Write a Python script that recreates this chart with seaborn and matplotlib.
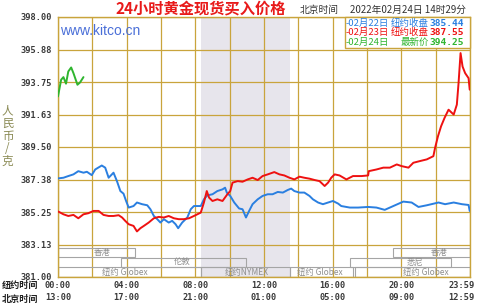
import matplotlib
matplotlib.use("Agg")
import matplotlib.pyplot as plt
import seaborn as sns
import pandas as pd
from matplotlib.patches import Rectangle
from matplotlib.transforms import ScaledTranslation

# ---------------- data ----------------
# minutes after 00:00 New York time
blue_min = [1, 19, 36, 54, 71, 89, 101, 118, 130, 153, 165, 177, 194, 206, 218, 229, 238, 247,
            264, 276, 294, 312, 323, 335, 347, 358, 370, 387, 399, 411, 420, 434, 452, 464, 475,
            499, 510, 522, 540, 557, 575, 584, 590, 602, 616, 633, 645, 657, 668, 680, 698, 715,
            733, 750, 768, 786, 803, 815, 826, 844, 861, 879, 891, 909, 926, 944, 961, 979, 990,
            1020, 1049, 1084, 1113, 1142, 1172, 1207, 1236, 1260, 1289, 1330, 1353, 1383, 1412,
            1435, 1439]
blue_val = [387.45, 387.49, 387.60, 387.71, 387.92, 387.82, 387.88, 387.66, 388.03, 388.29, 388.15,
            387.49, 387.82, 387.27, 386.62, 386.45, 385.97, 385.54, 385.64, 385.87, 385.76, 385.69,
            385.43, 384.99, 384.78, 384.56, 384.78, 384.56, 384.67, 384.45, 384.19, 384.56, 384.89,
            385.43, 385.64, 385.64, 386.08, 386.34, 386.41, 386.62, 386.73, 386.84, 386.52, 386.30,
            385.87, 385.48, 385.43, 384.89, 385.32, 385.76, 386.08, 386.30, 386.41, 386.41, 386.56,
            386.52, 386.69, 386.78, 386.62, 386.52, 386.52, 386.30, 386.08, 385.87, 385.76, 385.87,
            385.97, 385.80, 385.64, 385.54, 385.54, 385.58, 385.54, 385.39, 385.64, 385.93, 385.87,
            385.58, 385.69, 385.87, 385.76, 385.87, 385.76, 385.71, 385.32]

red_min = [1, 19, 36, 54, 71, 89, 106, 124, 142, 159, 177, 194, 212, 224, 235, 247, 264, 276, 288,
           300, 317, 335, 352, 370, 387, 405, 422, 440, 458, 475, 499, 510, 520, 528, 540, 557,
           575, 592, 602, 610, 628, 645, 663, 680, 698, 715, 733, 756, 774, 791, 809, 826, 844,
           861, 879, 897, 914, 932, 944, 955, 967, 984, 1008, 1031, 1061, 1084, 1086, 1113, 1137,
           1160, 1184, 1201, 1225, 1242, 1265, 1289, 1312, 1318, 1328, 1339, 1351, 1365, 1383,
           1394, 1400, 1407, 1414, 1423, 1435, 1439]
red_val = [385.28, 385.10, 384.99, 385.06, 384.84, 385.10, 385.17, 385.32, 385.32, 385.06, 384.99,
           384.99, 385.04, 384.89, 384.67, 384.45, 384.34, 383.98, 384.19, 384.34, 384.56, 384.84,
           384.93, 384.89, 384.99, 384.84, 384.78, 384.78, 384.84, 384.99, 385.21, 385.87, 386.62,
           386.19, 385.97, 386.08, 385.97, 386.41, 386.62, 387.17, 387.27, 387.23, 387.38, 387.49,
           387.34, 387.60, 387.71, 387.86, 387.71, 387.64, 387.49, 387.38, 387.56, 387.49, 387.43,
           387.34, 387.27, 386.95, 387.17, 387.49, 387.71, 387.64, 387.38, 387.60, 387.60, 387.64,
           387.92, 388.03, 388.15, 388.15, 388.36, 388.25, 388.15, 388.47, 388.58, 388.69, 388.90,
           389.45, 390.20, 390.86, 391.40, 391.94, 391.62, 392.27, 393.68, 395.64, 394.76, 394.33,
           394.00, 393.25]

green_min = [0, 11, 19, 28, 36, 46, 54, 68, 77, 89]
green_val = [392.81, 393.90, 394.07, 393.64, 394.44, 394.70, 394.33, 393.57, 393.72, 394.07]

y_ticks = [381.0, 383.125, 385.25, 387.375, 389.5, 391.625, 393.75, 395.875, 398.0]
y_tick_labels = ["381.00", "383.13", "385.25", "387.38", "389.50", "391.63", "393.75", "395.88", "398.00"]
x_ticks = [0, 240, 480, 720, 960, 1200, 1439]
ny_labels = ["00:00", "04:00", "08:00", "12:00", "16:00", "20:00", "23:59"]
bj_labels = ["13:00", "17:00", "21:00", "01:00", "05:00", "09:00", "12:59"]
x_grid_minor = [120, 360, 600, 840, 1080, 1320]

nymex_span = [500, 810]

session_names = ["香港", "香港", "伦敦", "悉尼", "纽约 Globex", "纽约NYMEX", "纽约 Globex", "纽约 Globex"]
session_start = [0, 1172, 220, 1022, 0, 500, 810, 1038]
session_end = [268, 1440, 658, 1375, 500, 810, 1031, 1440]
session_row = [0, 0, 1, 1, 2, 2, 2, 2]
session_label_at = [154, 1331, 433, 1248, 232, 661, 916, 1286]
row_bounds = [(382.32, 382.91), (381.67, 382.26), (381.0, 381.63)]

title = "24小时黄金现货买入价格"
time_caption = "北京时间"
time_stamp = "2022年02月24日 14时29分"
legend_dates = ["-02月22日", "-02月23日", "-02月24日"]
legend_kinds = ["纽约收盘", "纽约收盘", "最新价"]
legend_values = ["385.44", "387.55", "394.25"]

# ---------------- style ----------------
BLUE = "#2a7fe0"
RED = "#ee1111"
GREEN = "#2fb52f"
GOLD = "#c9a43c"
series_colors = [BLUE, RED, GREEN]

sns.set_theme(style="white")
plt.rcParams['font.family'] = ['Noto Sans CJK SC', 'DejaVu Sans']
plt.rcParams['axes.unicode_minus'] = False

W, H = 479, 304
fig = plt.figure(figsize=(W / 100, H / 100), dpi=100)
fig.patch.set_facecolor("white")
L, R, T, B = 58, 470, 17, 277
ax = fig.add_axes([L / W, 1 - B / H, (R - L) / W, (B - T) / H])


def fx(x):
    return x / W


def fy(y):
    return 1 - y / H


ax.axvspan(nymex_span[0], nymex_span[1], color="#e7e5ec", lw=0, zorder=0)

df_b = pd.DataFrame({"m": blue_min, "v": blue_val})
df_r = pd.DataFrame({"m": red_min, "v": red_val})
df_g = pd.DataFrame({"m": green_min, "v": green_val})
sns.lineplot(data=df_b, x="m", y="v", color=BLUE, lw=1.4, ax=ax, estimator=None, zorder=3)
sns.lineplot(data=df_r, x="m", y="v", color=RED, lw=1.4, ax=ax, estimator=None, zorder=4)
sns.lineplot(data=df_g, x="m", y="v", color=GREEN, lw=1.4, ax=ax, estimator=None, zorder=4)

ax.set_xlim(0, 1440)
ax.set_ylim(381, 398)
ax.set_xlabel("")
ax.set_ylabel("")

ax.set_yticks(y_ticks)
ax.set_yticklabels(y_tick_labels, fontfamily="DejaVu Sans Mono", fontsize=6.2,
                   fontweight="bold", color="#3a3a3a")
ax.set_xticks(x_ticks)
ax.set_xticks(x_grid_minor, minor=True)
ax.set_xticklabels([f"{a}\n{b}" for a, b in zip(ny_labels, bj_labels)],
                   fontfamily="DejaVu Sans Mono", fontsize=6.2, fontweight="bold",
                   color="#3a3a3a", linespacing=1.45)
ax.tick_params(axis="both", which="both", length=0)
ax.tick_params(axis="y", pad=4)
ax.tick_params(axis="x", pad=3)
last = ax.get_xticklabels()[-1]
last.set_transform(last.get_transform() + ScaledTranslation(-8 / 100, 0, fig.dpi_scale_trans))

ax.grid(True, which="both", axis="x", color=GOLD, lw=0.9)
ax.grid(True, which="major", axis="y", color=GOLD, lw=0.9)
for s in ax.spines.values():
    s.set_color(GOLD)
    s.set_linewidth(1.0)

# trading session boxes
for name, s0, s1, row, lx in zip(session_names, session_start, session_end, session_row, session_label_at):
    y0, y1 = row_bounds[row]
    ax.add_patch(Rectangle((s0, y0), s1 - s0, y1 - y0, facecolor="none",
                           edgecolor="#a5a5a5", lw=0.8, zorder=1.5))
    ax.text(lx, (y0 + y1) / 2, name, ha="center", va="center", fontsize=6,
            color="#8e8e8e", zorder=2)

# texts
fig.text(fx(200.5), fy(8.5), title, ha="center", va="center", fontsize=11,
         color="#e81a1a", fontweight="bold")
fig.text(fx(300), fy(10), time_caption, ha="left", va="center", fontsize=7, color="#333333")
fig.text(fx(350), fy(10), time_stamp, ha="left", va="center", fontsize=7, color="#333333")
fig.text(fx(60), fy(30.7), "www.kitco.cn", ha="left", va="center",
         fontfamily="Liberation Sans", fontsize=10, color="#4a6fd8")
fig.text(fx(7.5), fy(136), "人\n民\n币\n/\n克", ha="center", va="center", fontsize=8.4,
         color="#8b8b55", linespacing=0.95)
fig.text(fx(2), fy(285.7), "纽约时间", ha="left", va="center", fontsize=6.6,
         color="#222222", fontweight="bold")
fig.text(fx(2), fy(299.3), "北京时间", ha="left", va="center", fontsize=6.6,
         color="#222222", fontweight="bold")

# legend box
leg = Rectangle((fx(345), fy(47.7)), fx(470) - fx(345), fy(16.7) - fy(47.7),
                transform=fig.transFigure, facecolor="white", edgecolor=GOLD, lw=1.0, zorder=5)
fig.add_artist(leg)
for i, (d, k, v, c) in enumerate(zip(legend_dates, legend_kinds, legend_values, series_colors)):
    yy = [23.3, 32.7, 42.3][i]
    fig.text(fx(346), fy(yy), d, ha="left", va="center", fontsize=6.8, color=c, zorder=6)
    fig.text(fx(429), fy(yy), k, ha="right", va="center", fontsize=6.8, color=c, zorder=6)
    fig.text(fx(464), fy(yy), v, ha="right", va="center", fontsize=6.8, color=c,
             fontfamily="DejaVu Sans Mono", fontweight="bold", zorder=6)

fig.savefig("out.png", dpi=100, facecolor="white")
